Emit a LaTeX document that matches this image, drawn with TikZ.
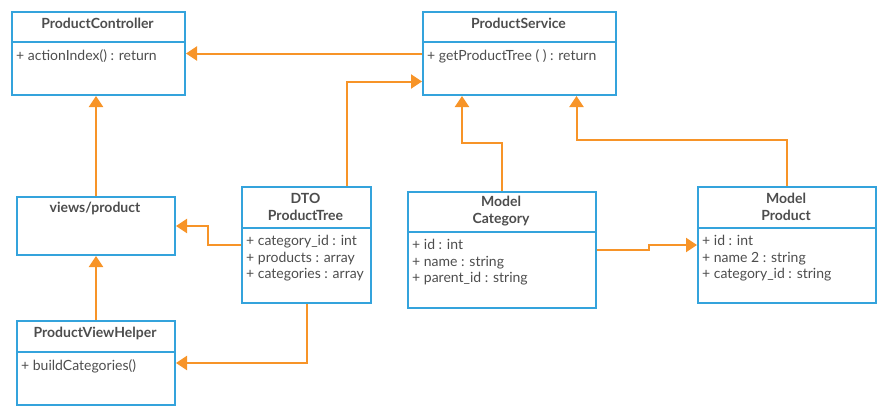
\documentclass[tikz,border=0pt]{standalone}
\usepackage{fontspec}
\setmainfont{Lato}
\usetikzlibrary{arrows.meta}
\definecolor{umlblue}{RGB}{52, 163, 220}
\definecolor{umlorange}{RGB}{247, 148, 40}
\definecolor{umltext}{RGB}{77, 77, 77}

\begin{document}
\begin{tikzpicture}[x=1pt,y=-1pt,
    umlbox/.style={draw=umlblue,line width=2pt,anchor=north west,inner sep=0pt},
    divider/.style={draw=umlblue,line width=2pt},
    title/.style={font=\fontsize{14}{17}\selectfont\bfseries,text=umltext,align=center,inner sep=0pt},
    attrs/.style={font=\fontsize{14}{16.6}\selectfont,text=umltext,align=left,anchor=north west,inner sep=0pt},
    link/.style={draw=umlorange,line width=2pt,-{Triangle[length=11pt,width=14pt]}}]
\useasboundingbox (0,0) rectangle (886,415);

% Boxes
\node[umlbox,minimum width=173pt,minimum height=83pt] (ctrl) at (11,11) {};
\node[umlbox,minimum width=193pt,minimum height=83pt] (serv) at (422,11) {};
\node[umlbox,minimum width=158pt,minimum height=58pt] (view) at (16,196) {};
\node[umlbox,minimum width=129pt,minimum height=116pt] (dto) at (241,186) {};
\node[umlbox,minimum width=158pt,minimum height=84pt] (helper) at (16,320) {};
\node[umlbox,minimum width=188pt,minimum height=116pt] (cat) at (407,191) {};
\node[umlbox,minimum width=178pt,minimum height=116pt] (prod) at (697,186) {};

% Dividers
\draw[divider] (ctrl.west |- 0,42) -- (ctrl.east |- 0,42);
\draw[divider] (serv.west |- 0,42) -- (serv.east |- 0,42);
\draw[divider] (dto.west |- 0,228) -- (dto.east |- 0,228);
\draw[divider] (helper.west |- 0,352) -- (helper.east |- 0,352);
\draw[divider] (cat.west |- 0,232) -- (cat.east |- 0,232);
\draw[divider] (prod.west |- 0,228) -- (prod.east |- 0,228);

% Titles
\node[title] (ctrl-t) at (97.5,23) {ProductController};
\node[title] (serv-t) at (518.5,23) {ProductService};
\node[title] (view-t) at (95,208) {views/product};
\node[title] (dto-t) at (305.5,206.5) {DTO\\ProductTree};
\node[title] (helper-t) at (95,333) {ProductViewHelper};
\node[title] (cat-t) at (501,211.5) {Model\\Category};
\node[title] (prod-t) at (786,206.5) {Model\\Product};

% Members
\node[attrs] (ctrl-a) at (16,49) {+ actionIndex() : return};
\node[attrs] (serv-a) at (427,49) {+ getProductTree ( ) : return};
\node[attrs] (dto-a) at (246,235) {+ category\_id : int\\+ products : array\\+ categories : array};
\node[attrs] (helper-a) at (21,359) {+ buildCategories()};
\node[attrs] (cat-a) at (412,239) {+ id : int\\+ name : string\\+ parent\_id : string};
\node[attrs] (prod-a) at (702,235) {+ id : int\\+ name 2 : string\\+ category\_id : string};

% Connectors
\draw[link] (serv.west) -- (ctrl.east);
\draw[link] ([xshift=40pt]dto.north) |- ([yshift=-28pt]serv.west);
\draw[link] (view.north) -- (view.north |- ctrl.south);
\draw[link] (helper.north) -- (view.south);
\draw[link] (dto.west) -- ++(-33,0) |- (view.east);
\draw[link] (dto.south) |- (helper.east);
\draw[link] (cat.north) -- ++(0,-48) -| ([xshift=-57.5pt]serv.south);
\draw[link] (prod.north) -- ++(0,-46) -| ([xshift=57pt]serv.south);
\draw[link] (cat.east) -- ++(52,0) |- (prod.west);
\end{tikzpicture}
\end{document}
